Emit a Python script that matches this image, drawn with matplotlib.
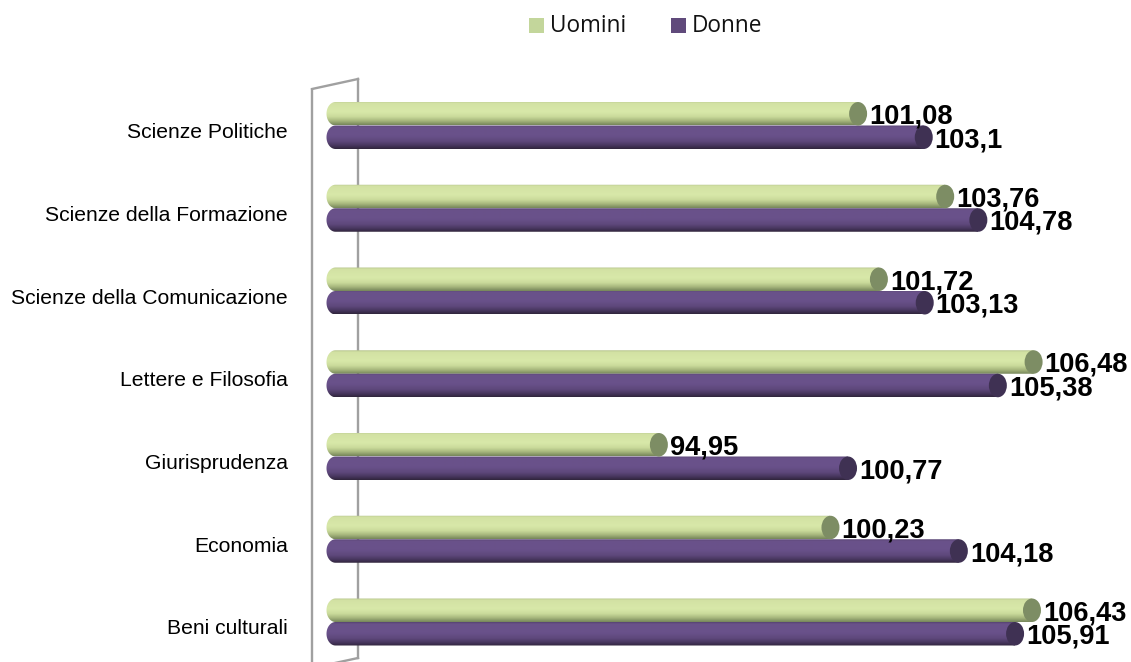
import numpy as np
import matplotlib
matplotlib.use("Agg")
import matplotlib.pyplot as plt
from matplotlib.patches import Polygon, Ellipse, Rectangle
from matplotlib.colors import to_rgb

categories = ["Scienze Politiche", "Scienze della Formazione", "Scienze della Comunicazione",
              "Lettere e Filosofia", "Giurisprudenza", "Economia", "Beni culturali"]
uomini = [101.08, 103.76, 101.72, 106.48, 94.95, 100.23, 106.43]
donne = [103.1, 104.78, 103.13, 105.38, 100.77, 104.18, 105.91]
series_names = ["Uomini", "Donne"]
x_base = 85

W, H = 1131, 662
DPI = 100
PX_PER_UNIT = 32.5
PX_PER_CAT = 82.75
CAP_PX = 9.0
BAR_PX = 23.5

fig = plt.figure(figsize=(W / DPI, H / DPI), dpi=DPI)

# overlay in pixel coordinates (wall outline + legend)
ov = fig.add_axes([0, 0, 1, 1])
ov.set_xlim(0, W)
ov.set_ylim(H, 0)
ov.axis("off")
wall_col = "#a0a0a0"
lw = 1.7
ov.plot([312, 312], [89, 670], color=wall_col, lw=lw, solid_capstyle="butt")
ov.plot([312, 358], [89, 79], color=wall_col, lw=lw)
ov.plot([358, 358], [79, 658], color=wall_col, lw=lw)
ov.plot([358, 312], [658, 668], color=wall_col, lw=lw)

# legend
leg_cols = ["#c3d69b", "#604a7b"]
leg_sq_x = [529, 671]
leg_tx_x = [550, 692]
for name, c, sx, tx in zip(series_names, leg_cols, leg_sq_x, leg_tx_x):
    ov.add_patch(Rectangle((sx, 18), 15, 15, facecolor=c, edgecolor="none"))
    ov.text(tx, 26, name, fontsize=16.3, family="Open Sans", color="#111111",
            ha="left", va="center")

# main axes
ax = fig.add_axes([0, 0, 1, 1])
ax.patch.set_alpha(0)
x_left = x_base - 335.5 / PX_PER_UNIT
x_right = x_base + (W - 335.5) / PX_PER_UNIT
y_bottom = -(H - 622) / PX_PER_CAT
y_top = 622 / PX_PER_CAT
hw = CAP_PX / PX_PER_UNIT
h = BAR_PX / PX_PER_CAT


def grad_colors(stops, n=80):
    pos = np.array([s[0] for s in stops])
    cols = np.array([to_rgb(s[1]) for s in stops])
    t = np.linspace(0, 1, n)
    out = np.stack([np.interp(t, pos, cols[:, k]) for k in range(3)], axis=1)
    return out.reshape(n, 1, 3)


green_stops = [(0.0, "#b4c28c"), (0.08, "#d3e2a4"), (0.45, "#d8e8a9"),
               (0.65, "#cadb9b"), (0.82, "#a8b87e"), (1.0, "#76865a")]
purple_stops = [(0.0, "#574371"), (0.08, "#6a528a"), (0.45, "#69518a"),
                (0.68, "#5e487b"), (0.85, "#48375f"), (1.0, "#30253c")]
green_cap = "#7d8d64"
purple_cap = "#3f3153"


def cylinder(x1, yc, stops, capcol):
    x0 = x_base
    y0, y1 = yc - h / 2, yc + h / 2
    im = ax.imshow(grad_colors(stops), extent=[x0 - hw, x1, y0, y1], origin="upper",
                   aspect="auto", interpolation="bilinear", zorder=2)
    th = np.linspace(np.pi / 2, 3 * np.pi / 2, 40)
    arc = np.column_stack([x0 + hw * np.cos(th), yc + (h / 2) * np.sin(th)])
    verts = np.vstack([[[x1, y0], [x1, y1], [x0, y1]], arc])
    clip = Polygon(verts, closed=True, facecolor="none", edgecolor="none",
                   transform=ax.transData)
    ax.add_patch(clip)
    im.set_clip_path(clip)
    ax.add_patch(Ellipse((x1, yc), 2 * hw, h, facecolor=capcol, edgecolor="none", zorder=3))


n = len(categories)
for i, (cat, u, d) in enumerate(zip(categories, uomini, donne)):
    k = n - 1 - i
    yu = k + h / 2
    yd = k - h / 2
    cylinder(u, yu, green_stops, green_cap)
    cylinder(d, yd, purple_stops, purple_cap)
    for v, yc in ((u, yu), (d, yd)):
        ax.annotate(f"{v:g}".replace(".", ","), xy=(v, yc), xytext=(11 * 0.72, -10 * 0.72),
                    textcoords="offset points", ha="left", va="baseline",
                    fontsize=19.6, fontweight="bold", family="Liberation Sans",
                    color="#000000", zorder=5)
    ax.text(x_base - (335.5 - 288) / PX_PER_UNIT, k - 12.5 / PX_PER_CAT, cat,
            ha="right", va="baseline", fontsize=15.2, family="Liberation Sans",
            color="#000000")

ax.set_xlim(x_left, x_right)
ax.set_ylim(y_bottom, y_top)
ax.axis("off")

fig.savefig("out.png", dpi=DPI)
